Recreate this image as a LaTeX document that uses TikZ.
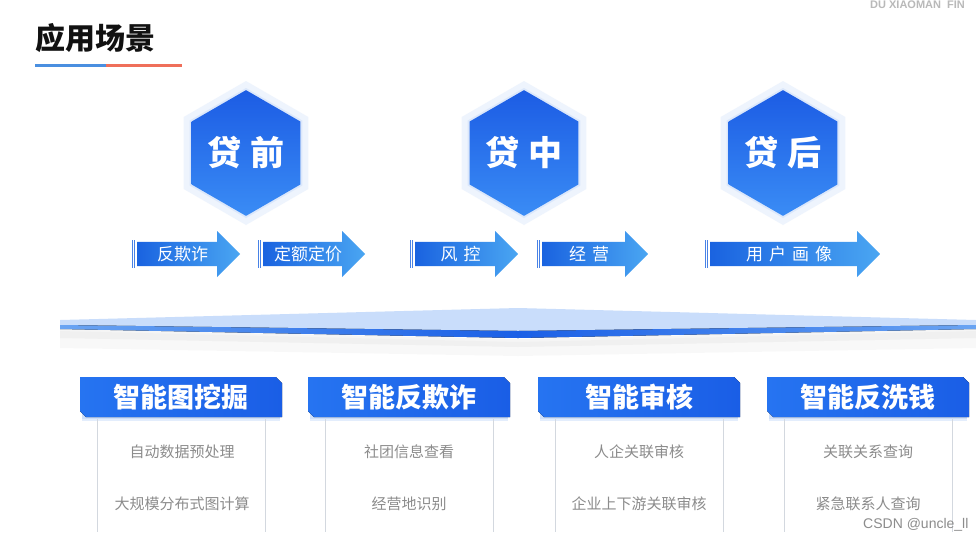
\documentclass[tikz,border=0pt]{standalone}
\usepackage{fontspec}
\setmainfont{Noto Sans CJK SC}
\newfontfamily\latinfont{Liberation Sans}
\usepackage{xcolor}
\usetikzlibrary{positioning,calc,shapes.geometric,shapes.arrows}
\definecolor{ink}{HTML}{111111}
\definecolor{lineB}{HTML}{4A8FE0}
\definecolor{lineR}{HTML}{EF6F5A}
\definecolor{hexA}{HTML}{1C5CE4}
\definecolor{hexB}{HTML}{3A8CF5}
\definecolor{hexL}{HTML}{C9DCFA}
\definecolor{tagA}{HTML}{1A63E0}
\definecolor{tagB}{HTML}{4AA6F2}
\definecolor{bandL}{HTML}{C9DDFB}
\definecolor{bandD}{HTML}{1A5FE6}
\definecolor{bandE}{HTML}{6AA4F2}
\definecolor{hdA}{HTML}{2674F1}
\definecolor{hdB}{HTML}{1A5EE6}
\definecolor{itemC}{HTML}{8C8C8C}
\definecolor{colL}{HTML}{D3D8DF}
\tikzset{
  title/.style   ={font=\fontsize{30}{30}\selectfont\bfseries, text=ink, inner sep=0pt},
  uline/.style   ={line width=3pt},
  brand/.style   ={font=\latinfont\fontsize{11}{11}\selectfont\bfseries, text=gray!55, inner sep=0pt},
  hexglow/.style ={regular polygon, regular polygon sides=6, shape border rotate=30,
                   inner sep=0pt, minimum size=#1, fill=hexL, draw=none},
  hex/.style     ={regular polygon, regular polygon sides=6, shape border rotate=30,
                   inner sep=0pt, minimum size=116pt, shading angle=150, top color=hexA, bottom color=hexB,
                   text=white, font=\fontsize{34}{34}\selectfont\bfseries},
  tag/.style     ={single arrow, single arrow head extend=9pt, minimum width=46pt, inner sep=2pt,
                   left color=tagA, right color=tagB, text=white, font=\fontsize{17}{17}\selectfont},
  stripe/.style  ={line width=1pt, draw=tagA!80},
  tab/.pic       ={\fill[hexL, opacity=.5] (-99,-16) -- (99,-16) -- (99,24) -- (-99,24) -- cycle;
                   \fill[hexL, opacity=.8] (-99,-16) -- (99,-16) -- (99,22) -- (-99,22) -- cycle;
                   \fill[left color=hdA, right color=hdB]
                     (-101,-20) -- (95,-20) -- (101,-14) -- (101,20) -- (-95,20) -- (-101,14) -- cycle;},
  hd/.style      ={inner sep=0pt, text=white, font=\fontsize{27}{27}\selectfont\bfseries},
  item/.style    ={font=\fontsize{15}{15}\selectfont, text=itemC},
  col/.style     ={line width=.7pt, draw=colL},
  wm/.style      ={font=\latinfont\fontsize{14}{14}\selectfont, text=gray!90},
}
\begin{document}
\begin{tikzpicture}[x=1pt, y=-1pt]
  \useasboundingbox[fill=white] (0,0) rectangle (976,542);
  % title
  \node[title, anchor=west](title) at (35,38){应用场景};
  \draw[uline, draw=lineB] (35,65) -- (106,65);
  \draw[uline, draw=lineR] (106,65) -- (182,65);
  \node[brand, anchor=base west](brand) at (870,8){DU XIAOMAN\ \ FIN};
  % stages
  \node[hexglow=144pt, opacity=.3](preglow) at (246,153){};
  \node[hexglow=130pt, opacity=.5] at (preglow){};
  \node[hex](pre) at (preglow){贷\hspace{9pt}前};
  \node[hexglow=144pt, opacity=.3](midglow) at (524,153){};
  \node[hexglow=130pt, opacity=.5] at (midglow){};
  \node[hex](mid) at (midglow){贷\hspace{9pt}中};
  \node[hexglow=144pt, opacity=.3](postglow) at (783,153){};
  \node[hexglow=130pt, opacity=.5] at (postglow){};
  \node[hex](post) at (postglow){贷\hspace{9pt}后};
  % tags
  \node[tag, minimum height=103pt, anchor=tail](fqz) at (137,254){反欺诈};
  \node[tag, minimum height=102pt, anchor=tail](edj) at (263,254){定额定价};
  \node[tag, minimum height=103pt, anchor=tail](fk) at (415,254){风\hspace{6pt}控};
  \node[tag, minimum height=106pt, anchor=tail](jy) at (542,254){经\hspace{6pt}营};
  \node[tag, minimum height=170pt, anchor=tail](hx) at (710,254){用\hspace{6pt}户\hspace{6pt}画\hspace{6pt}像};
  \foreach \n in {fqz,edj,fk,jy,hx}{
    \draw[stripe] ($(\n.tail)+(-5,-14)$) -- ++(0,28);
    \draw[stripe] ($(\n.tail)+(-2.5,-14)$) -- ++(0,28);
  }
  % band
  \fill[gray!40, opacity=.12] (60,331) -- (518,342) -- (976,331) -- (976,348) -- (518,356) -- (60,348) -- cycle;
  \fill[gray!40, opacity=.18] (60,329) -- (518,339) -- (976,329) -- (976,338) -- (518,347) -- (60,338) -- cycle;
  \fill[bandL] (60,320) -- (518,308) -- (976,320) -- (976,325) -- (518,331) -- (60,325) -- cycle;
  \fill[left color=bandE, right color=bandE, middle color=bandD]
    (60,325) -- (518,331) -- (976,325) -- (976,329) -- (518,338) -- (60,329) -- cycle;
  % capabilities
  \pic at (181,397){tab};
  \node[hd](mine) at (181,397){智能图挖掘};
  \pic at (409,397){tab};
  \node[hd](anti) at (409,397){智能反欺诈};
  \pic at (639,397){tab};
  \node[hd](audit) at (639,397){智能审核};
  \pic at (868,397){tab};
  \node[hd](aml) at (868,397){智能反洗钱};
  \foreach \n in {mine,anti,audit,aml}{
    \draw[col] ($(\n)+(-84,22)$) -- ++(0,113);
    \draw[col] ($(\n)+(84,22)$) -- ++(0,113);
  }
  \node[item](mine1) at ($(mine)+(1,55)$){自动数据预处理};
  \node[item](mine2) at ($(mine)+(1,107)$){大规模分布式图计算};
  \node[item](anti1) at ($(anti)+(0,55)$){社团信息查看};
  \node[item](anti2) at ($(anti)+(0,107)$){经营地识别};
  \node[item](audit1) at ($(audit)+(0,55)$){人企关联审核};
  \node[item](audit2) at ($(audit)+(0,107)$){企业上下游关联审核};
  \node[item](aml1) at ($(aml)+(0,55)$){关联关系查询};
  \node[item](aml2) at ($(aml)+(0,107)$){紧急联系人查询};
  \node[wm, anchor=east](mark) at (972,525){CSDN @uncle\_ll};
\end{tikzpicture}
\end{document}
